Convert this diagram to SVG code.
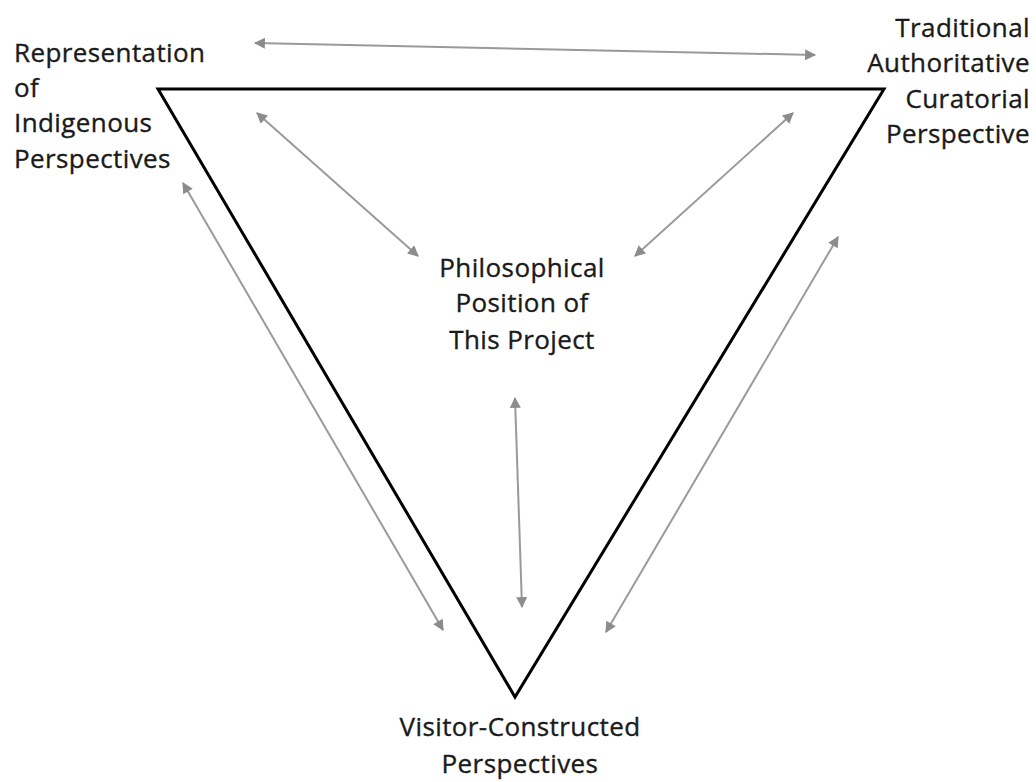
<svg xmlns="http://www.w3.org/2000/svg" width="1036" height="782" viewBox="0 0 1036 782">
<style>
text{font-family:"Open Sans","Liberation Sans",sans-serif;font-size:26px;letter-spacing:0.4px;fill:#1a1a1a;stroke:#1a1a1a;stroke-width:0.35px}
.c line{stroke:#9a9a9a;stroke-width:2;marker-start:url(#a);marker-end:url(#a)}
.tri{fill:none;stroke:#000;stroke-width:3;stroke-linejoin:miter}
</style>
<defs>
<marker id="a" viewBox="0 0 10 10" refX="9" refY="5" markerWidth="12" markerHeight="11" orient="auto-start-reverse" markerUnits="userSpaceOnUse">
<path d="M0,0 L10,5 L0,10 z" fill="#8c8c8c"/>
</marker>
</defs>
<rect width="1036" height="782" fill="#fff"/>
<g id="triangle"><polygon class="tri" points="158,89 884,89 515,697"/></g>
<g id="connectors" class="c">
<line x1="255" y1="43" x2="815" y2="55"/>
<line x1="257" y1="113" x2="418" y2="256"/>
<line x1="793" y1="113" x2="635" y2="256"/>
<line x1="515" y1="398" x2="522" y2="607"/>
<line x1="183" y1="183" x2="443" y2="630"/>
<line x1="838" y1="237" x2="606" y2="632"/>
</g>
<g id="indigenous">
<text x="14" y="62">Representation</text>
<text x="14" y="97">of</text>
<text x="14" y="132">Indigenous</text>
<text x="14" y="168">Perspectives</text>
</g>
<g id="traditional" text-anchor="end">
<text x="1030" y="37">Traditional</text>
<text x="1030" y="72">Authoritative</text>
<text x="1030" y="108">Curatorial</text>
<text x="1030" y="143">Perspective</text>
</g>
<g id="philosophical" text-anchor="middle">
<text x="522" y="277">Philosophical</text>
<text x="522" y="312">Position of</text>
<text x="522" y="349">This Project</text>
</g>
<g id="visitor" text-anchor="middle">
<text x="520" y="736">Visitor-Constructed</text>
<text x="520" y="773">Perspectives</text>
</g>
</svg>
